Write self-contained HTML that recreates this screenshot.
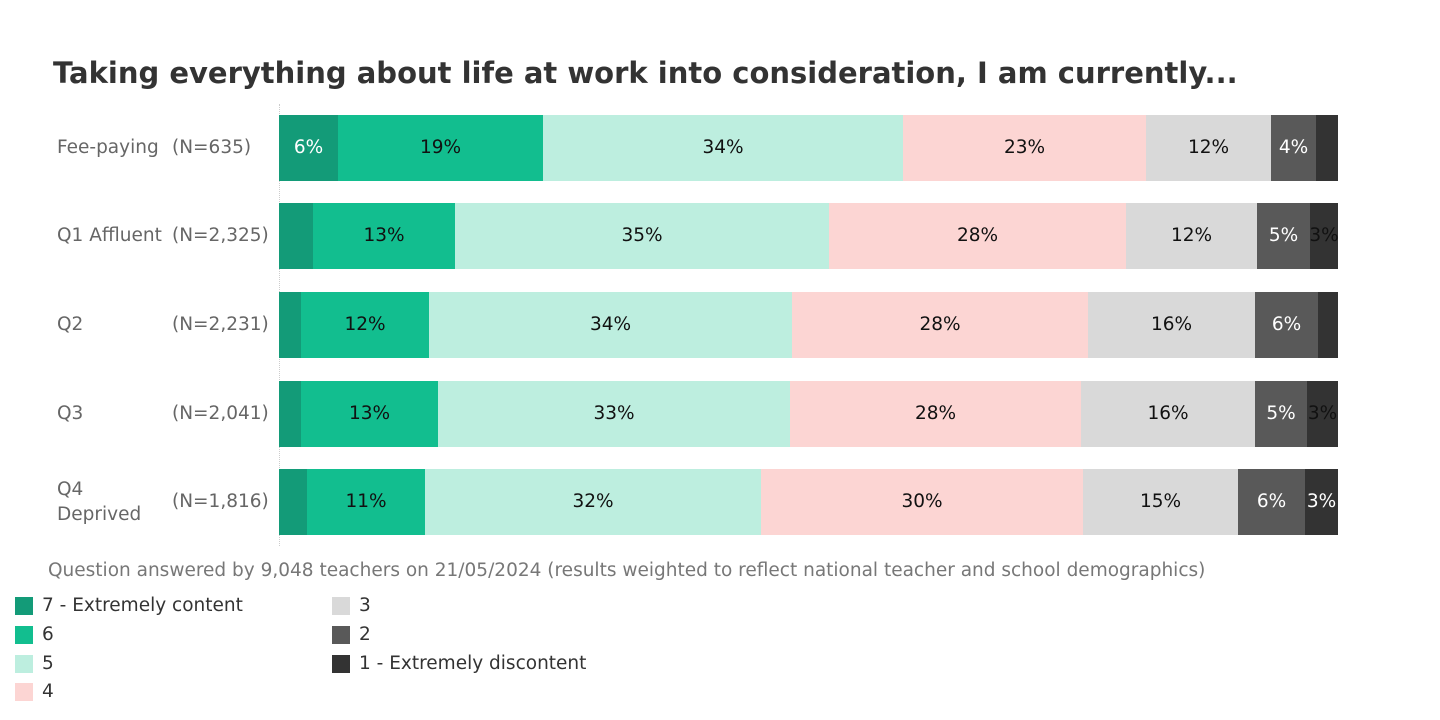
<!DOCTYPE html>
<html><head><meta charset="utf-8"><style>
body{margin:0;width:1440px;height:720px;background:#fff;font-family:"DejaVu Sans","Liberation Sans",sans-serif;position:relative;overflow:hidden}
.a{position:absolute;white-space:nowrap}
.row{position:absolute;left:279px;height:66px;display:flex}
.row div{height:66px;line-height:66px;text-align:center;font-size:18.5px;color:#111;overflow:visible;white-space:nowrap;display:flex;justify-content:center}
.c7{background:#139b78}.c6{background:#12be8f}.c5{background:#bdeedf}.c4{background:#fcd5d3}.c3{background:#d9d9d9}.c2{background:#595959}.c1{background:#333}
.w{color:#fff!important}
.lab{position:absolute;font-size:18.5px;color:#666;white-space:nowrap}
.sq{position:absolute;width:18px;height:18px}
.lt{position:absolute;font-size:18.5px;color:#333;white-space:nowrap}
</style></head><body>
<div class="a" style="left:53px;top:56px;font-size:29px;font-weight:bold;color:#333">Taking everything about life at work into consideration, I am currently...</div>
<div class="a" style="left:279px;top:104px;height:442px;border-left:1px dotted #ccc"></div>

<div class="lab" style="left:57px;top:137px">Fee-paying</div><div class="lab" style="left:172px;top:137px">(N=635)</div>
<div class="lab" style="left:57px;top:225px">Q1 Affluent</div><div class="lab" style="left:172px;top:225px">(N=2,325)</div>
<div class="lab" style="left:57px;top:314px">Q2</div><div class="lab" style="left:172px;top:314px">(N=2,231)</div>
<div class="lab" style="left:57px;top:403px">Q3</div><div class="lab" style="left:172px;top:403px">(N=2,041)</div>
<div class="lab" style="left:57px;top:479px">Q4</div><div class="lab" style="left:57px;top:504px">Deprived</div><div class="lab" style="left:172px;top:491px">(N=1,816)</div>

<div class="row" style="top:115px"><div class="c7 w" style="width:59px">6%</div><div class="c6" style="width:205px">19%</div><div class="c5" style="width:360px">34%</div><div class="c4" style="width:243px">23%</div><div class="c3" style="width:125px">12%</div><div class="c2 w" style="width:45px">4%</div><div class="c1" style="width:22px"></div></div>
<div class="row" style="top:203px"><div class="c7" style="width:34px"></div><div class="c6" style="width:142px">13%</div><div class="c5" style="width:374px">35%</div><div class="c4" style="width:297px">28%</div><div class="c3" style="width:131px">12%</div><div class="c2 w" style="width:53px">5%</div><div class="c1" style="width:28px">3%</div></div>
<div class="row" style="top:292px"><div class="c7" style="width:22px"></div><div class="c6" style="width:128px">12%</div><div class="c5" style="width:363px">34%</div><div class="c4" style="width:296px">28%</div><div class="c3" style="width:167px">16%</div><div class="c2 w" style="width:63px">6%</div><div class="c1" style="width:20px"></div></div>
<div class="row" style="top:381px"><div class="c7" style="width:22px"></div><div class="c6" style="width:137px">13%</div><div class="c5" style="width:352px">33%</div><div class="c4" style="width:291px">28%</div><div class="c3" style="width:174px">16%</div><div class="c2 w" style="width:52px">5%</div><div class="c1" style="width:31px">3%</div></div>
<div class="row" style="top:469px"><div class="c7" style="width:28px"></div><div class="c6" style="width:118px">11%</div><div class="c5" style="width:336px">32%</div><div class="c4" style="width:322px">30%</div><div class="c3" style="width:155px">15%</div><div class="c2 w" style="width:67px">6%</div><div class="c1 w" style="width:33px">3%</div></div>

<div class="a" style="left:48px;top:560px;font-size:18.5px;color:#777">Question answered by 9,048 teachers on 21/05/2024 (results weighted to reflect national teacher and school demographics)</div>

<div class="sq c7" style="left:15px;top:597px"></div><div class="lt" style="left:42px;top:595px">7 - Extremely content</div>
<div class="sq c6" style="left:15px;top:626px"></div><div class="lt" style="left:42px;top:624px">6</div>
<div class="sq c5" style="left:15px;top:655px"></div><div class="lt" style="left:42px;top:653px">5</div>
<div class="sq c4" style="left:15px;top:683px"></div><div class="lt" style="left:42px;top:681px">4</div>
<div class="sq c3" style="left:332px;top:597px"></div><div class="lt" style="left:359px;top:595px">3</div>
<div class="sq c2" style="left:332px;top:626px"></div><div class="lt" style="left:359px;top:624px">2</div>
<div class="sq c1" style="left:332px;top:655px"></div><div class="lt" style="left:359px;top:653px">1 - Extremely discontent</div>
</body></html>
